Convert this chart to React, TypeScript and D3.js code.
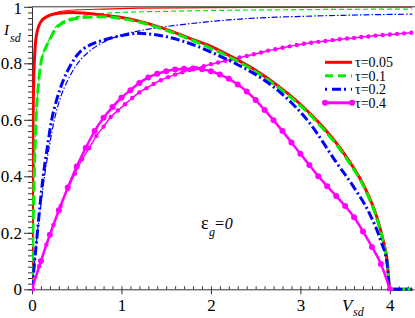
import React, { useRef, useEffect } from "react";
import * as d3 from "d3";

// tau = 0.05 (red)
const redThickV = [0, 0.005, 0.012, 0.02, 0.03, 0.05, 0.1, 0.18, 0.3, 0.45, 0.6, 0.8, 1.0, 1.25, 1.5, 1.75, 2.0, 2.25, 2.5, 2.75, 3.0, 3.25, 3.5, 3.75, 3.85, 3.92, 3.97, 4.0, 4.25];
const redThickI = [0, 0.3, 0.6, 0.75, 0.83, 0.9, 0.947, 0.967, 0.977, 0.98, 0.977, 0.97, 0.962, 0.945, 0.92, 0.89, 0.86, 0.82, 0.775, 0.72, 0.655, 0.575, 0.475, 0.34, 0.26, 0.18, 0.1, 0, 0];
const redThinV = [0, 0.005, 0.012, 0.02, 0.03, 0.05, 0.1, 0.18, 0.3, 0.5, 0.8, 1.2, 2, 3, 4.25];
const redThinI = [0, 0.3, 0.6, 0.75, 0.83, 0.9, 0.95, 0.97, 0.982, 0.989, 0.992, 0.995, 0.997, 0.998, 0.999];

// tau = 0.1 (green)
const greenThickV = [0, 0.01, 0.025, 0.045, 0.07, 0.1, 0.16, 0.2, 0.27, 0.4, 0.6, 0.8, 1.0, 1.25, 1.5, 1.75, 2.0, 2.25, 2.5, 2.75, 3.0, 3.25, 3.5, 3.75, 3.85, 3.92, 3.97, 4.0, 4.25];
const greenThickI = [0, 0.2, 0.4, 0.6, 0.72, 0.8, 0.86, 0.885, 0.925, 0.95, 0.963, 0.965, 0.958, 0.942, 0.917, 0.887, 0.853, 0.815, 0.77, 0.715, 0.65, 0.57, 0.47, 0.335, 0.255, 0.175, 0.095, 0, 0];
const greenThinV = [0, 0.01, 0.025, 0.045, 0.07, 0.1, 0.16, 0.2, 0.27, 0.4, 0.6, 0.8, 1.0, 1.5, 2, 3, 4.25];
const greenThinI = [0, 0.2, 0.4, 0.6, 0.72, 0.8, 0.86, 0.89, 0.93, 0.955, 0.97, 0.977, 0.98, 0.984, 0.987, 0.99, 0.992];

// tau = 0.2 (blue)
const blueThickV = [0, 0.03, 0.06, 0.09, 0.125, 0.17, 0.22, 0.275, 0.35, 0.425, 0.52, 0.65, 0.8, 1.0, 1.2, 1.4, 1.65, 2.0, 2.3, 2.5, 2.8, 3.1, 3.4, 3.6, 3.77, 3.9, 3.97, 4.0, 4.25];
const blueThickI = [0, 0.1, 0.2, 0.3, 0.4, 0.5, 0.6, 0.67, 0.74, 0.79, 0.835, 0.865, 0.882, 0.898, 0.906, 0.9, 0.882, 0.84, 0.795, 0.76, 0.69, 0.59, 0.45, 0.36, 0.27, 0.17, 0.09, 0, 0];
const blueThinV = [0, 0.03, 0.06, 0.1, 0.14, 0.19, 0.25, 0.32, 0.4, 0.5, 0.65, 0.8, 1.0, 1.25, 1.5, 2.0, 2.5, 3.0, 3.5, 4.0, 4.25];
const blueThinI = [0, 0.1, 0.2, 0.3, 0.4, 0.5, 0.6, 0.68, 0.74, 0.795, 0.845, 0.875, 0.9, 0.918, 0.93, 0.948, 0.96, 0.966, 0.97, 0.973, 0.974];

// tau = 0.4 (magenta, with markers)
const magThickV = [0, 0.1, 0.2, 0.3, 0.4, 0.5, 0.6, 0.7, 0.8, 0.9, 1.0, 1.1, 1.2, 1.3, 1.4, 1.5, 1.6, 1.7, 1.8, 1.9, 2.0, 2.1, 2.2, 2.3, 2.4, 2.5, 2.6, 2.7, 2.8, 2.9, 3.0, 3.1, 3.2, 3.3, 3.4, 3.5, 3.6, 3.7, 3.8, 3.9, 4.0];
const magThickI = [0, 0.1, 0.193, 0.28, 0.36, 0.435, 0.5, 0.56, 0.607, 0.645, 0.678, 0.705, 0.73, 0.75, 0.763, 0.772, 0.778, 0.781, 0.782, 0.779, 0.772, 0.76, 0.745, 0.725, 0.7, 0.67, 0.635, 0.598, 0.56, 0.52, 0.48, 0.44, 0.4, 0.365, 0.33, 0.295, 0.255, 0.205, 0.15, 0.09, 0];
const magThinV = [0, 0.08, 0.16, 0.24, 0.32, 0.4, 0.48, 0.56, 0.64, 0.72, 0.8, 0.88, 0.96, 1.04, 1.12, 1.2, 1.28, 1.36, 1.44, 1.52, 1.6, 1.68, 1.76, 1.84, 1.92, 2.0, 2.08, 2.16, 2.24, 2.32, 2.4, 2.48, 2.56, 2.64, 2.72, 2.8, 2.88, 2.96, 3.04, 3.12, 3.2, 3.28, 3.36, 3.44, 3.52, 3.6, 3.68, 3.76, 3.84, 3.92, 4.0, 4.08, 4.16, 4.24];
const magThinI = [0, 0.082, 0.158, 0.228, 0.295, 0.355, 0.41, 0.46, 0.5, 0.543, 0.576, 0.61, 0.633, 0.655, 0.677, 0.697, 0.712, 0.727, 0.74, 0.751, 0.76, 0.768, 0.776, 0.783, 0.79, 0.797, 0.803, 0.809, 0.815, 0.821, 0.826, 0.832, 0.838, 0.845, 0.85, 0.855, 0.86, 0.865, 0.869, 0.873, 0.876, 0.879, 0.882, 0.885, 0.888, 0.89, 0.893, 0.895, 0.898, 0.9, 0.902, 0.904, 0.906, 0.908];

const xTicks = [0, 1, 2, 3, 4];
const yTicks = [0, 0.2, 0.4, 0.6, 0.8, 1];
const legendLabels = ["τ=0.05", "τ=0.1", "τ=0.2", "τ=0.4"];

const FONT = "Liberation Serif, Times New Roman, serif";

const App = () => {
  const ref = useRef(null);
  const w = 415,
    h = 318;

  useEffect(() => {
    const svg = d3.select(ref.current);
    svg.selectAll("*").remove();

    const x = d3.scaleLinear().domain([0, 4.27]).range([32, 414]);
    const y = d3.scaleLinear().domain([0, 1]).range([289.3, 6.8]);
    const axisColor = "#333";

    // minor ticks, x inward, y outward
    svg
      .append("g")
      .attr("transform", `translate(0,${y(0)})`)
      .call(
        d3
          .axisBottom(x)
          .tickValues(d3.range(0, 4.26, 0.1))
          .tickSize(-3)
          .tickSizeOuter(0)
          .tickFormat(() => "")
      )
      .call((g) => g.select(".domain").attr("stroke", axisColor))
      .call((g) => g.selectAll(".tick line").attr("stroke", axisColor));
    svg
      .append("g")
      .attr("transform", `translate(0,${y(0)})`)
      .call(
        d3
          .axisBottom(x)
          .tickValues(xTicks)
          .tickSize(5)
          .tickPadding(5)
          .tickFormat(d3.format("d"))
      )
      .call((g) => g.select(".domain").remove())
      .call((g) => g.selectAll(".tick line").attr("stroke", axisColor))
      .call((g) =>
        g.selectAll("text").style("font-family", FONT).style("font-size", "17px").attr("fill", "#000")
      );

    svg
      .append("g")
      .attr("transform", `translate(${x(0)},0)`)
      .call(
        d3
          .axisLeft(y)
          .tickValues(d3.range(0, 1.001, 0.02))
          .tickSize(4)
          .tickSizeOuter(0)
          .tickFormat(() => "")
      )
      .call((g) => g.select(".domain").attr("stroke", axisColor))
      .call((g) => g.selectAll(".tick line").attr("stroke", axisColor));
    svg
      .append("g")
      .attr("transform", `translate(${x(0)},0)`)
      .call(
        d3
          .axisLeft(y)
          .tickValues(yTicks)
          .tickSize(8)
          .tickPadding(2)
          .tickFormat((d) => String(d))
      )
      .call((g) => g.select(".domain").remove())
      .call((g) => g.selectAll(".tick line").attr("stroke", axisColor))
      .call((g) =>
        g.selectAll("text").style("font-family", FONT).style("font-size", "17px").attr("fill", "#000")
      )
      .call((g) => g.selectAll("text").filter((d) => d === 1).attr("dy", "0.42em"));

    // top frame
    svg
      .append("line")
      .attr("x1", x(0))
      .attr("x2", w)
      .attr("y1", y(1))
      .attr("y2", y(1))
      .attr("stroke", axisColor);

    svg
      .append("clipPath")
      .attr("id", "plot-clip")
      .append("rect")
      .attr("x", x(0))
      .attr("y", y(1))
      .attr("width", w - x(0))
      .attr("height", y(0) - y(1) + 2);

    const plot = svg.append("g").attr("clip-path", "url(#plot-clip)");

    const line = d3
      .line()
      .x((d) => x(d[0]))
      .y((d) => y(d[1]))
      .curve(d3.curveMonotoneX);

    const pts = (vs, is) => vs.map((v, i) => [v, is[i]]);

    const curves = [
      { d: pts(redThinV, redThinI), color: "#ff0000", width: 1.2, dash: null },
      { d: pts(greenThinV, greenThinI), color: "#00ee00", width: 1.2, dash: "5,3" },
      { d: pts(blueThinV, blueThinI), color: "#0000ff", width: 1.2, dash: "6,2,1.5,2" },
      { d: pts(magThinV, magThinI), color: "#ff00ff", width: 1.5, dash: null, r: 2.2 },
      { d: pts(redThickV, redThickI), color: "#ff0000", width: 3, dash: null },
      { d: pts(greenThickV, greenThickI), color: "#00ee00", width: 3, dash: "10,4" },
      { d: pts(blueThickV, blueThickI), color: "#0000ff", width: 3, dash: "9,3,2,3" },
      { d: pts(magThickV, magThickI), color: "#ff00ff", width: 2.5, dash: null, r: 3 },
    ];

    curves.forEach((c) => {
      plot
        .append("path")
        .datum(c.d)
        .attr("fill", "none")
        .attr("stroke", c.color)
        .attr("stroke-width", c.width)
        .attr("stroke-dasharray", c.dash)
        .attr("stroke-linejoin", "round")
        .attr("d", line);
      if (c.r) {
        plot
          .append("g")
          .selectAll("circle")
          .data(c.d)
          .join("circle")
          .attr("cx", (d) => x(d[0]))
          .attr("cy", (d) => y(d[1]))
          .attr("r", c.r)
          .attr("fill", c.color);
      }
    });

    // legend
    const legendStyles = [
      { color: "#ff0000", dash: null },
      { color: "#00ee00", dash: "8,5" },
      { color: "#0000ff", dash: "2,5,9,3" },
      { color: "#ff00ff", dash: null, r: 3 },
    ];
    const lg = svg.append("g").attr("transform", "translate(325,62.3)");
    legendLabels.forEach((lab, i) => {
      const s = legendStyles[i];
      const row = lg.append("g").attr("transform", `translate(0,${i * 13.5})`);
      row
        .append("line")
        .attr("x1", 0)
        .attr("x2", 27)
        .attr("stroke", s.color)
        .attr("stroke-width", 3)
        .attr("stroke-dasharray", s.dash);
      if (s.r) {
        row.append("circle").attr("cx", 0).attr("r", s.r).attr("fill", s.color);
        row.append("circle").attr("cx", 27).attr("r", s.r).attr("fill", s.color);
      }
      row
        .append("text")
        .attr("x", 30)
        .attr("y", 5)
        .style("font-family", FONT)
        .style("font-size", "14px")
        .text(lab);
    });

    // axis titles and annotation
    const label = (tx, ty, size, str, it = true) =>
      svg
        .append("text")
        .attr("x", tx)
        .attr("y", ty)
        .style("font-family", FONT)
        .style("font-style", it ? "italic" : "normal")
        .style("font-size", size + "px")
        .text(str);

    label(4, 35, 15, "I");
    label(10, 42, 12, "sd");
    label(342, 311, 17, "V");
    label(353, 316, 12, "sd");

    label(201, 229, 18, "ε", false);
    label(209, 236, 12, "g");
    label(214, 229, 16, "=0");
  }, []);

  return (
    <svg
      ref={ref}
      width={w}
      height={h}
      style={{ position: "absolute", left: 0, top: 0, background: "#fff" }}
    ></svg>
  );
};

export default App;
